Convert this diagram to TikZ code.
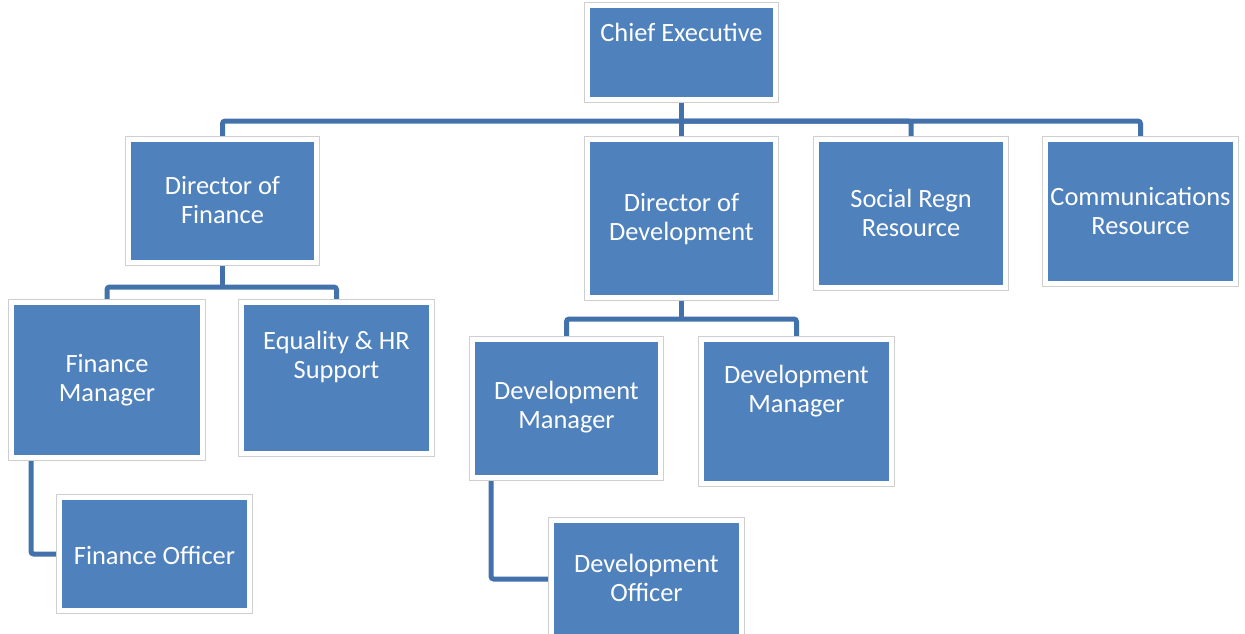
\documentclass[tikz,border=0pt]{standalone}
\usepackage{fontspec}
\setmainfont{Carlito}
\usetikzlibrary{backgrounds}
\definecolor{boxblue}{HTML}{4F81BD}
\definecolor{connblue}{HTML}{4371AB}
\definecolor{rimgray}{HTML}{CFCFCF}
\begin{document}
\begin{tikzpicture}[x=0.75pt,y=-0.75pt,
  orgbox/.style n args={2}{draw=white, fill=boxblue, line width=3.75pt,
     preaction={draw=rimgray, line width=5.25pt},
     anchor=north west, inner sep=0pt,
     minimum width={(#1-5)*0.75pt}, minimum height={(#2-5)*0.75pt}},
  lbl/.style={text=white, align=center, font=\fontsize{19.8pt}{21.75pt}\selectfont, inner sep=0pt},
  conn/.style={draw=connblue, line width=3.75pt, rounded corners=2pt}]
\useasboundingbox (0,0) rectangle (1245,633);
% boxes (outer corner)
\node[orgbox={193}{99}]  (CE)  at (585,3) {};
\node[orgbox={193}{128}] (DF)  at (126,137) {};
\node[orgbox={193}{163}] (DD)  at (585,137) {};
\node[orgbox={194}{153}] (SR)  at (814,137) {};
\node[orgbox={195}{149}] (CR)  at (1043,137) {};
\node[orgbox={196}{160}] (FM)  at (9,300) {};
\node[orgbox={195}{156}] (EQ)  at (239,300) {};
\node[orgbox={195}{118}] (FO)  at (57,495) {};
\node[orgbox={193}{143}] (DM1) at (470,337) {};
\node[orgbox={195}{149}] (DM2) at (699,337) {};
\node[orgbox={195}{122}] (DO)  at (549,518) {};
% connector helper coordinates
\coordinate (busy) at (0,121);
\coordinate (fy) at (0,287);
\coordinate (dy) at (0,319);
\coordinate (fmx) at (31,0);
\coordinate (dmx) at (491,0);
\coordinate (bus) at (CE.south |- busy);
\coordinate (fbus) at (DF.south |- fy);
\coordinate (dbus) at (DD.south |- dy);
% connectors
\begin{scope}[on background layer]
\draw[conn] (DF.north) |- (bus) -| (CR.north);
\draw[conn] (CE.south) -- (DD.north);
\draw[conn] (bus) -| (SR.north);
\draw[conn] (DF.south) -- (fbus);
\draw[conn] (FM.north) |- (fbus) -| (EQ.north);
\draw[conn] (FO.west) -| (fmx |- FM.south);
\draw[conn] (DD.south) -- (dbus);
\draw[conn] (DM1.north) |- (dbus) -| (DM2.north);
\draw[conn] (DO.west) -| (dmx |- DM1.south);
\end{scope}
% labels
\node[lbl] (tCE)  at (681.5,32)  {Chief Executive};
\node[lbl] (tDF)  at (222.5,200) {Director of\\Finance};
\node[lbl] (tDD)  at (681.5,219) {Director of\\Development};
\node[lbl] (tSR)  at (911,213)   {Social Regn\\Resource};
\node[lbl] (tCR)  at (1140.5,211) {Communications\\Resource};
\node[lbl] (tFM)  at (107,380)   {Finance\\Manager};
\node[lbl] (tEQ)  at (336.5,357) {Equality \& HR\\Support};
\node[lbl] (tFO)  at (154.5,555) {Finance Officer};
\node[lbl] (tDM1) at (566.5,407) {Development\\Manager};
\node[lbl] (tDM2) at (796.5,391) {Development\\Manager};
\node[lbl] (tDO)  at (646.5,578) {Development\\Officer};
\end{tikzpicture}
\end{document}
